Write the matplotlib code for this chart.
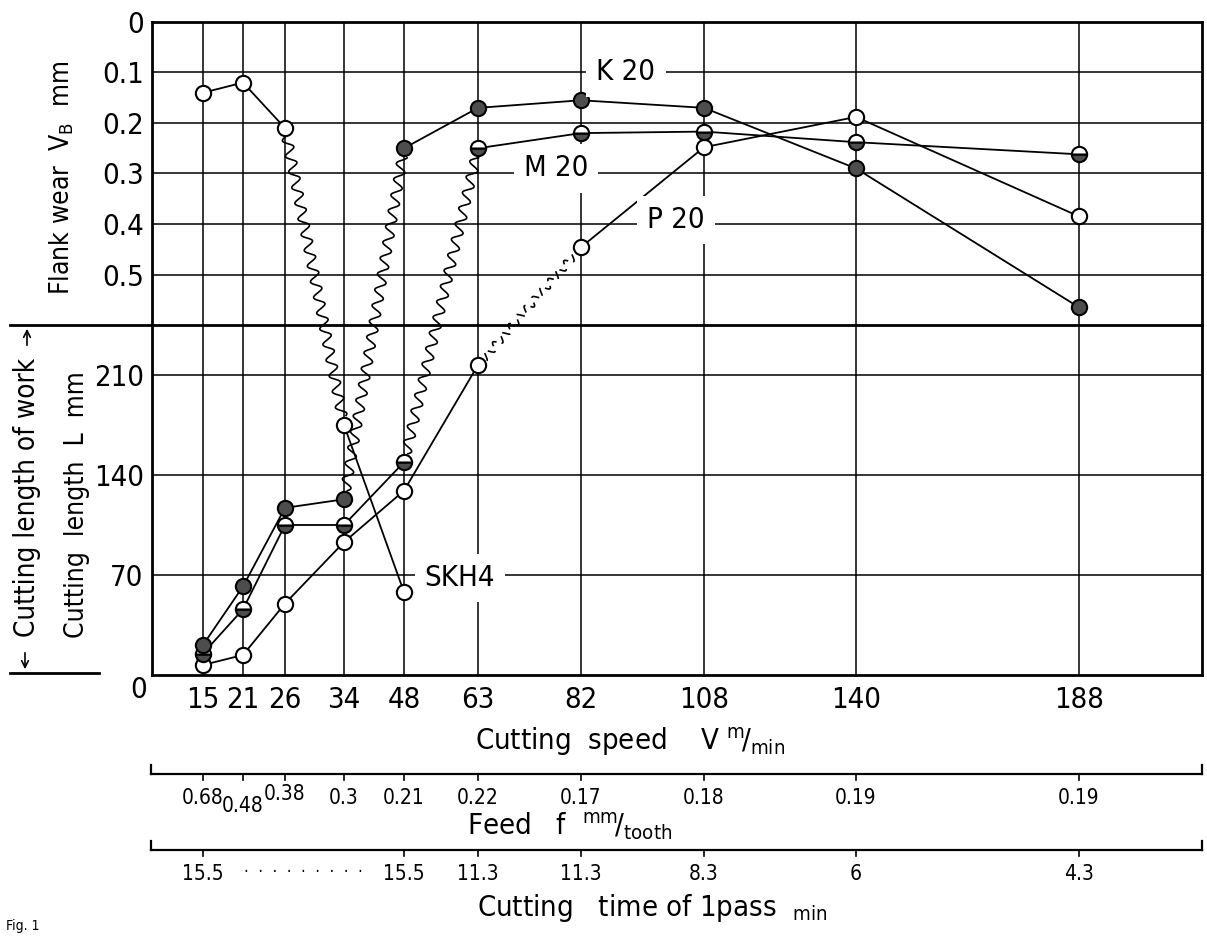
import numpy as np
import matplotlib
matplotlib.use('Agg')
import matplotlib.pyplot as plt
from matplotlib.lines import Line2D
from matplotlib import transforms

plt.rcParams['font.family'] = 'DejaVu Sans'
plt.rcParams['font.stretch'] = 'condensed'
plt.rcParams['mathtext.default'] = 'regular'

# ---- data ----
speeds = [15, 21, 26, 34, 48, 63, 82, 108, 140, 188]
feeds = ['0.68', '0.48', '0.38', '0.3', '0.21', '0.22', '0.17', '0.18', '0.19', '0.19']
time_speeds = [15, 48, 63, 82, 108, 140, 188]
times = ['15.5', '15.5', '11.3', '11.3', '8.3', '6', '4.3']

skh4_speed_vb = [15, 21, 26]
skh4_vb = [0.14, 0.12, 0.21]
skh4_speed_L = [34, 48]
skh4_L = [175, 58]

k20_speed_L = [15, 21, 26, 34]
k20_L = [21, 62, 117, 123]
k20_speed_vb = [48, 63, 82, 108, 140, 188]
k20_vb = [0.25, 0.17, 0.155, 0.17, 0.29, 0.565]

m20_speed_L = [15, 21, 26, 34, 48]
m20_L = [15, 46, 105, 105, 149]
m20_speed_vb = [63, 82, 108, 140, 188]
m20_vb = [0.25, 0.22, 0.217, 0.238, 0.262]

p20_speed_L = [15, 21, 26, 34, 48, 63]
p20_L = [7, 14, 50, 93, 129, 217]
p20_speed_vb = [82, 108, 140, 188]
p20_vb = [0.446, 0.248, 0.188, 0.385]

# ---- layout (pixels) ----
W, H = 1207, 936
LEFT, RIGHT, TOP, MID, BOT = 152, 1202, 22, 325, 675
speed_pos = [51, 91, 133, 192, 252, 326, 429, 552, 704, 927]  # px from left edge
pos = dict(zip(speeds, speed_pos))


def X(sp):
    return [pos[s] for s in sp]


def fy(py):
    return 1 - py / H


fig = plt.figure(figsize=(W / 100, H / 100), dpi=100)
ax_up = fig.add_axes([LEFT / W, fy(MID), (RIGHT - LEFT) / W, (MID - TOP) / H])
ax_lo = fig.add_axes([LEFT / W, fy(BOT), (RIGHT - LEFT) / W, (BOT - MID) / H])

for ax in (ax_up, ax_lo):
    ax.set_xlim(0, RIGHT - LEFT)
    ax.set_xticks(speed_pos)
    ax.grid(True, color='black', lw=1.1)
    ax.set_axisbelow(True)
    ax.tick_params(length=0, labelsize=21, pad=6)
    for s in ax.spines.values():
        s.set_linewidth(2)

ax_up.set_ylim(0.6, 0)
ax_up.set_yticks([0, 0.1, 0.2, 0.3, 0.4, 0.5], labels=['0', '0.1', '0.2', '0.3', '0.4', '0.5'])
ax_up.tick_params(axis='x', labelbottom=False)
ax_up.spines['bottom'].set_visible(False)

ax_lo.set_ylim(0, 245)
ax_lo.set_yticks([70, 140, 210], labels=['70', '140', '210'])
ax_lo.set_xticklabels([str(s) for s in speeds])
ax_lo.tick_params(axis='x', pad=8)

# ---- series ----
line = dict(color='black', lw=1.3, ms=11, mec='black', mew=1.5, zorder=3, clip_on=False)
open_m = dict(marker='o', mfc='white')
fill_m = dict(marker='o', mfc='0.3')
half_m = dict(marker='o', fillstyle='bottom', mfc='0.3', markerfacecoloralt='white')

ax_up.plot(X(skh4_speed_vb), skh4_vb, **line, **open_m)
ax_lo.plot(X(skh4_speed_L), skh4_L, **line, **open_m)
ax_lo.plot(X(p20_speed_L), p20_L, **line, **open_m)
ax_up.plot(X(p20_speed_vb), p20_vb, **line, **open_m)
ax_lo.plot(X(m20_speed_L), m20_L, **line, **half_m)
ax_up.plot(X(m20_speed_vb), m20_vb, **line, **half_m)
ax_lo.plot(X(k20_speed_L), k20_L, **line, **fill_m)
ax_up.plot(X(k20_speed_vb), k20_vb, **line, **fill_m)


# ---- wavy links between the two panels (tool reached wear limit) ----
def wavy(ax0, pt0, ax1, pt1, amp=5, wl=16, dashed=False):
    p0 = ax0.transData.transform(pt0)
    p1 = ax1.transData.transform(pt1)
    d = p1 - p0
    length = np.hypot(*d)
    u = d / length
    n = np.array([-u[1], u[0]])
    t = np.linspace(9, length - 9, 600)
    pts = p0 + np.outer(t, u) + np.outer(amp * np.sin(2 * np.pi * t / wl), n)
    f = fig.transFigure.inverted().transform(pts)
    ls = (0, (5, 3)) if dashed else '-'
    fig.add_artist(Line2D(f[:, 0], f[:, 1], transform=fig.transFigure,
                          color='black', lw=1.2, ls=ls, zorder=4))


wavy(ax_up, (pos[skh4_speed_vb[-1]], skh4_vb[-1]), ax_lo, (pos[skh4_speed_L[0]], skh4_L[0]))
wavy(ax_lo, (pos[k20_speed_L[-1]], k20_L[-1]), ax_up, (pos[k20_speed_vb[0]], k20_vb[0]))
wavy(ax_lo, (pos[m20_speed_L[-1]], m20_L[-1]), ax_up, (pos[m20_speed_vb[0]], m20_vb[0]))
wavy(ax_lo, (pos[p20_speed_L[-1]], p20_L[-1]), ax_up, (pos[p20_speed_vb[0]], p20_vb[0]),
     amp=4, wl=12, dashed=True)

# ---- series names ----
box = dict(boxstyle='square,pad=0.35', fc='white', ec='none')
ax_up.text(474, 0.1, 'K 20', fontsize=21, ha='center', va='center', bbox=box, zorder=5)
ax_up.text(404, 0.29, 'M 20', fontsize=21, ha='center', va='center', bbox=box, zorder=5)
ax_up.text(524, 0.392, 'P 20', fontsize=21, ha='center', va='center', bbox=box, zorder=5)
ax_lo.text(308, 68, 'SKH4', fontsize=21, ha='center', va='center', bbox=box, zorder=5)

# ---- axis titles ----
fig.text(147 / W, fy(690), '0', fontsize=21, ha='right', va='center')
fig.text(62 / W, fy(178), r'Flank wear  V$_\mathrm{B}$  mm', fontsize=19,
         rotation=90, ha='center', va='center')
fig.text(77 / W, fy(505), 'Cutting  length  L  mm', fontsize=19,
         rotation=90, ha='center', va='center')
fig.text(27 / W, fy(497), 'Cutting length of work', fontsize=20,
         rotation=90, ha='center', va='center')

# bracket for "cutting length of work"
fig.add_artist(Line2D([10 / W, LEFT / W], [fy(MID), fy(MID)], color='black', lw=2))
fig.add_artist(Line2D([10 / W, 99 / W], [fy(BOT - 2), fy(BOT - 2)], color='black', lw=2))
arr = dict(arrowstyle='->', color='black', lw=1.2, mutation_scale=12)
fig.add_artist(plt.Annotation('', xy=(27 / W, fy(MID + 1)), xytext=(27 / W, fy(348)),
                              xycoords='figure fraction', arrowprops=arr))
fig.add_artist(plt.Annotation('', xy=(25 / W, fy(BOT - 3)), xytext=(25 / W, fy(650)),
                              xycoords='figure fraction', arrowprops=arr))

fig.text(475 / W, fy(742), r'Cutting  speed    V $^{\mathrm{m}}\!/_{\mathrm{min}}$',
         fontsize=21, ha='left', va='center')

# ---- feed and time scales ----
bt = transforms.blended_transform_factory(ax_lo.transData, fig.transFigure)


def scale_bar(y, tick_speeds):
    x0, x1 = -1, RIGHT - LEFT
    fig.add_artist(Line2D([x0, x1], [fy(y), fy(y)], transform=bt, color='black', lw=1.6))
    for xe in (x0, x1):
        fig.add_artist(Line2D([xe, xe], [fy(y), fy(y - 9)], transform=bt, color='black', lw=1.6))
    for s in tick_speeds:
        fig.add_artist(Line2D([pos[s], pos[s]], [fy(y), fy(y + 6)], transform=bt,
                              color='black', lw=1.2))


scale_bar(774, speeds)
feed_dy = [0, 8, -4, 0, 0, 0, 0, 0, 0, 0]
for s, f, dy in zip(speeds, feeds, feed_dy):
    fig.text(pos[s], fy(798 + dy), f, transform=bt, fontsize=15, ha='center', va='center')
fig.text(467 / W, fy(826), r'Feed   f  $^{\mathrm{mm}}\!/_{\mathrm{tooth}}$', fontsize=21,
         ha='left', va='center')

scale_bar(850, time_speeds)
for s, t in zip(time_speeds, times):
    fig.text(pos[s], fy(874), t, transform=bt, fontsize=15, ha='center', va='center')
fig.text((pos[15] + pos[48]) / 2, fy(872), '·  ·  ·  ·  ·  ·  ·  ·  ·', transform=bt,
         fontsize=12, ha='center', va='center')
fig.text(477 / W, fy(908), r'Cutting   time of 1pass  $_{\mathrm{min}}$', fontsize=21,
         ha='left', va='center')

fig.text(6 / W, fy(933), 'Fig. 1', fontsize=10, ha='left', va='bottom')

fig.savefig('out.png', dpi=100)
